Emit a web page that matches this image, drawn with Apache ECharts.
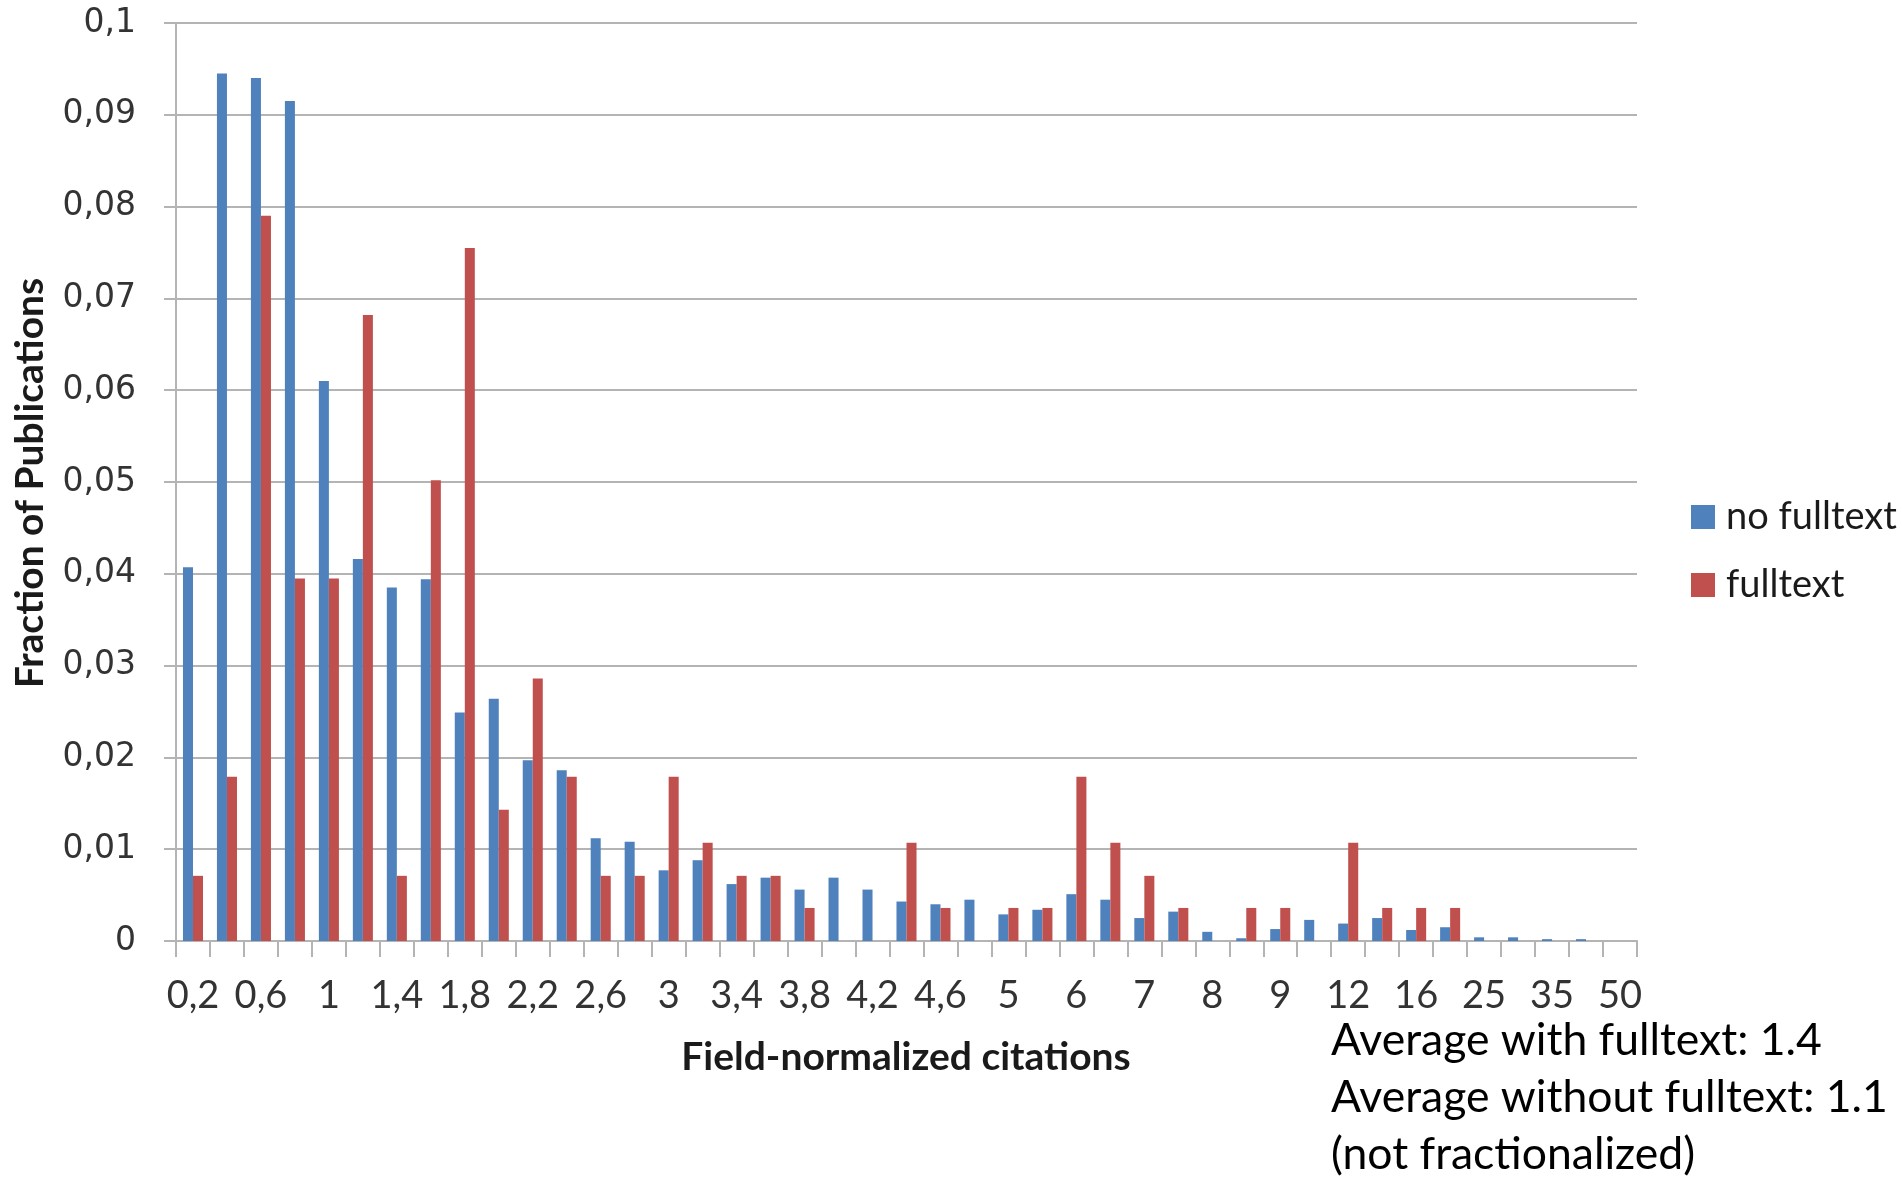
<!DOCTYPE html>
<html>
<head>
<meta charset="utf-8">
<script src="https://cdn.jsdelivr.net/npm/echarts@6/dist/echarts.min.js"></script>
<style>
html,body{margin:0;padding:0;background:#fff;}
#chart{width:1902px;height:1177px;}
</style>
</head>
<body>
<div id="chart"></div>
<script>
var categories = ["0,2","0,4","0,6","0,8","1","1,2","1,4","1,6","1,8","2","2,2","2,4","2,6","2,8","3","3,2","3,4","3,6","3,8","4","4,2","4,4","4,6","4,8","5","5,5","6","6,5","7","7,5","8","8,5","9","10","12","14","16","20","25","30","35","40","50"];

var noFulltext = [0.0407,0.0945,0.0940,0.0915,0.0610,0.0416,0.0385,0.0394,0.0249,0.0264,
  0.0197,0.0186,0.0112,0.0108,0.0077,0.0088,0.0062,0.0069,0.0056,0.0069,
  0.0056,0.0043,0.0040,0.0045,0.0029,0.0034,0.0051,0.0045,0.0025,0.0032,
  0.0010,0.0003,0.0013,0.0023,0.0019,0.0025,0.0012,0.0015,0.0004,0.0004,
  0.0002,0.0002,0];

var fulltext = [0.0071,0.0179,0.0790,0.0395,0.0395,0.0682,0.0071,0.0502,0.0755,0.0143,
  0.0286,0.0179,0.0071,0.0071,0.0179,0.0107,0.0071,0.0071,0.0036,0,
  0,0.0107,0.0036,0,0.0036,0.0036,0.0179,0.0107,0.0071,0.0036,
  0,0.0036,0.0036,0,0.0107,0.0036,0.0036,0.0036,0,0,
  0,0,0];

var seriesNames = ["no fulltext","fulltext"];
var xTitle = "Field-normalized citations";
var yTitle = "Fraction of Publications";
var noteLines = ["Average with fulltext: 1.4","Average without fulltext: 1.1","(not fractionalized)"];

var chart = echarts.init(document.getElementById('chart'));
var txtFont = 'Lato';
var gridColor = '#b4b4b4';

chart.setOption({
  animation: false,
  backgroundColor: '#ffffff',
  grid: {left: 176, right: 265, top: 23, bottom: 236, containLabel: false},
  legend: {
    orient: 'vertical',
    left: 1686,
    top: 493,
    icon: 'rect',
    itemWidth: 24,
    itemHeight: 24,
    itemGap: 30,
    textStyle: {fontFamily: txtFont, fontSize: 38, color: '#1a1a1a', padding: [0,0,0,6]},
    data: seriesNames
  },
  xAxis: {
    type: 'category',
    data: categories,
    boundaryGap: true,
    axisLine: {lineStyle: {color: gridColor, width: 2}},
    axisTick: {show: true, length: 16, interval: 0, lineStyle: {color: gridColor, width: 2}},
    axisLabel: {interval: 1, margin: 36, fontFamily: txtFont, fontSize: 38, color: '#333333'},
    splitLine: {show: false}
  },
  yAxis: {
    type: 'value',
    min: 0,
    max: 0.1,
    interval: 0.01,
    axisLine: {show: true, lineStyle: {color: gridColor, width: 2}},
    axisTick: {show: true, length: 12, lineStyle: {color: gridColor, width: 2}},
    axisLabel: {
      margin: 40,
      fontFamily: 'DejaVu Sans',
      fontSize: 33,
      color: '#333333',
      formatter: function (v) { return String(Math.round(v * 100) / 100).replace('.', ','); }
    },
    splitLine: {show: true, lineStyle: {color: gridColor, width: 2}}
  },
  series: [
    {name: seriesNames[0], type: 'bar', data: noFulltext, barGap: '0%', barCategoryGap: '41%',
     itemStyle: {color: '#4F81BD'}},
    {name: seriesNames[1], type: 'bar', data: fulltext, barGap: '0%', barCategoryGap: '41%',
     itemStyle: {color: '#C0504D'}}
  ],
  graphic: [
    {type: 'text', x: 906, y: 1057,
     style: {text: xTitle, font: 'bold 39px Lato', fill: '#1a1a1a', textAlign: 'center', textVerticalAlign: 'middle'}},
    {type: 'text', x: 30, y: 483, rotation: Math.PI / 2,
     style: {text: yTitle, font: 'bold 39px Lato', fill: '#1a1a1a', textAlign: 'center', textVerticalAlign: 'middle'}},
    {type: 'text', x: 1331, y: 1041, style: {text: noteLines[0], font: '44.5px Lato', fill: '#000000', textAlign: 'left', textVerticalAlign: 'middle'}},
    {type: 'text', x: 1331, y: 1098, style: {text: noteLines[1], font: '44.5px Lato', fill: '#000000', textAlign: 'left', textVerticalAlign: 'middle'}},
    {type: 'text', x: 1331, y: 1155, style: {text: noteLines[2], font: '44.5px Lato', fill: '#000000', textAlign: 'left', textVerticalAlign: 'middle'}}
  ]
});
</script>
</body>
</html>
